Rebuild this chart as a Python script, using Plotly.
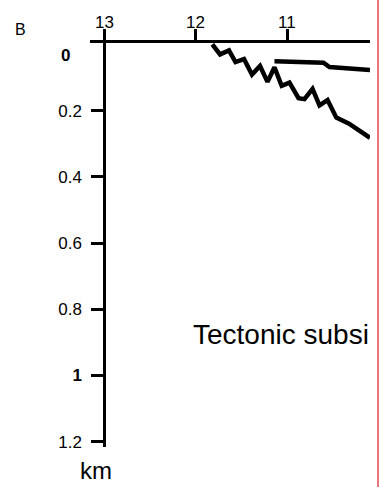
import plotly.graph_objects as go

# Data: distance (x, reversed) vs depth in km (y, downward)
zig_x = [11.816, 11.732, 11.634, 11.563, 11.470, 11.383, 11.295, 11.213, 11.137,
         11.058, 10.973, 10.874, 10.809, 10.721, 10.645, 10.557, 10.461, 10.322, 10.093]
zig_y = [0.0, 0.030, 0.018, 0.053, 0.044, 0.091, 0.065, 0.113, 0.069,
         0.125, 0.115, 0.162, 0.165, 0.134, 0.184, 0.168, 0.221, 0.239, 0.282]

upper_x = [11.137, 10.601, 10.536, 10.093]
upper_y = [0.051, 0.055, 0.068, 0.077]

x_tick_vals = [13, 12, 11, 10]
x_tick_text = ["13", "12", "11", "10"]
y_tick_vals = [0.2, 0.4, 0.6, 0.8, 1.0, 1.2]
y_tick_text = ["0.2", "0.4", "0.6", "0.8", "<b>1</b>", "1.2"]

FONT = "Liberation Sans, Arial, sans-serif"

W, H = 383, 487
L, T = 90, 43
PW, PH = 280, 404
R, B = W - L - PW, H - T - PH
X_RANGE = [13.153, 10.093]


def px(x, y):
    """window pixel -> paper coords"""
    return (x - L) / PW, 1 - (y - T) / PH


fig = go.Figure()
fig.add_trace(go.Scatter(x=zig_x, y=zig_y, mode="lines",
                         line=dict(color="black", width=4.5), showlegend=False))
fig.add_trace(go.Scatter(x=upper_x, y=upper_y, mode="lines",
                         line=dict(color="black", width=4.5), showlegend=False))

fig.update_layout(
    width=W, height=H,
    margin=dict(l=L, r=R, t=T, b=B, pad=0, autoexpand=False),
    paper_bgcolor="white", plot_bgcolor="white",
    font=dict(family=FONT, color="black"),
    xaxis=dict(range=X_RANGE, side="top", showgrid=False, zeroline=False,
               automargin=False,
               showline=True, linecolor="black", linewidth=2.5,
               ticks="outside", ticklen=11, tickwidth=2.5, tickcolor="black",
               tickvals=x_tick_vals, showticklabels=False),
    yaxis=dict(range=[1.216, -0.0045], showgrid=False, zeroline=False,
               automargin=False, anchor="free", position=14 / PW,
               showline=True, linecolor="black", linewidth=2.5,
               ticks="outside", ticklen=12, tickwidth=2.5, tickcolor="black",
               ticklabelstandoff=6,
               tickvals=y_tick_vals, ticktext=y_tick_text,
               tickfont=dict(size=17, family=FONT)),
)

# x tick labels placed just above the tick marks (as in the reference)
_, label_y = px(0, 23)
for v, t in zip(x_tick_vals, x_tick_text):
    if min(X_RANGE) <= v <= max(X_RANGE):
        fig.add_annotation(text=t, x=v, y=label_y, xref="x", yref="paper",
                           showarrow=False, font=dict(size=17, family=FONT),
                           xanchor="center", yanchor="middle")


def note(text, x, y, size, xanchor="center", yanchor="middle"):
    ax, ay = px(x, y)
    fig.add_annotation(text=text, x=ax, y=ay, xref="paper", yref="paper",
                       showarrow=False, font=dict(size=size, family=FONT),
                       xanchor=xanchor, yanchor=yanchor)


note("<b>0</b>", 65, 55, 17)
note("B", 20, 30, 16)
note("km", 96, 486, 24, yanchor="bottom")
note("Tectonic subsi", 191, 334, 28, xanchor="left")

# thin red frame line at the right edge
rx, _ = px(378, 0)
_, ytop = px(0, 0)
_, ybot = px(0, H)
fig.add_shape(type="line", xref="paper", yref="paper",
              x0=rx, x1=rx, y0=ybot, y1=ytop,
              line=dict(color="#e8474f", width=1.5))

fig.write_html("out.html", config={"displayModeBar": False},
               post_script="document.body.style.margin='0';document.body.style.overflow='hidden';")
